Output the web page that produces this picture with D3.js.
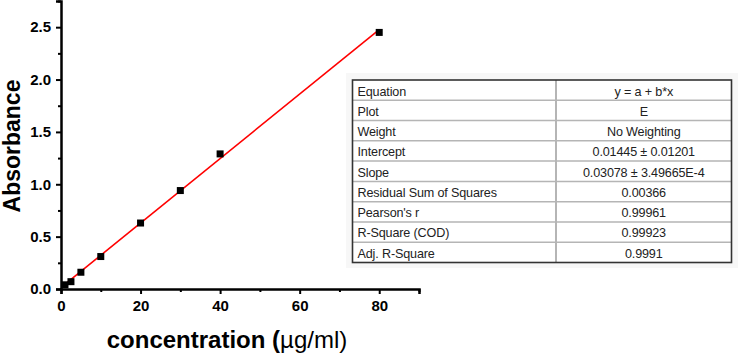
<!DOCTYPE html>
<html>
<head>
<meta charset="utf-8">
<script src="https://cdn.jsdelivr.net/npm/d3@7"></script>
<style>
html,body{margin:0;padding:0;background:#fff;}
svg{display:block;}
</style>
</head>
<body>
<svg id="chart" width="744" height="356"></svg>
<script>
// Data
const concentration = [1, 2.5, 5, 10, 20, 30, 40, 80];
const absorbance = [0.04, 0.07, 0.16, 0.31, 0.63, 0.94, 1.29, 2.45];
const fitIntercept = 0.01445;
const fitSlope = 0.03078;
const xTicks = [0, 20, 40, 60, 80];
const yTicks = [0.0, 0.5, 1.0, 1.5, 2.0, 2.5];
const tableLabels = ["Equation","Plot","Weight","Intercept","Slope","Residual Sum of Squares","Pearson's r","R-Square (COD)","Adj. R-Square"];
const tableValues = ["y = a + b*x","E","No Weighting","0.01445 \u00b1 0.01201","0.03078 \u00b1 3.49665E-4","0.00366","0.99961","0.99923","0.9991"];

const svg = d3.select("#chart");
const x = d3.scaleLinear().domain([0, 90]).range([61, 419]);
const y = d3.scaleLinear().domain([0, 2.75]).range([289, 1]);

// axes
const xAxis = d3.axisBottom(x).tickValues(xTicks).tickSize(5).tickFormat(d3.format("d"));
const xMinor = d3.axisBottom(x).tickValues(d3.range(10, 91, 20)).tickSize(3).tickFormat("");
const yAxis = d3.axisLeft(y).tickValues(yTicks).tickSize(5).tickFormat(d3.format(".1f"));
const yMinor = d3.axisLeft(y).tickValues(d3.range(0.25, 2.76, 0.5)).tickSize(3).tickFormat("");

function styleAxis(g){
  g.select(".domain").attr("stroke","#000").attr("stroke-width",2.5);
  g.selectAll(".tick line").attr("stroke","#000").attr("stroke-width",2);
  g.selectAll(".tick text").attr("fill","#000").style("font-family","'Liberation Sans', Arial, sans-serif").style("font-weight","bold").style("font-size","15px");
}
const gx = svg.append("g").attr("transform","translate(0,289)").call(xAxis).call(styleAxis);
gx.selectAll(".tick text").attr("dy","0.95em").attr("y",8);
svg.append("g").attr("transform","translate(0,289)").call(xMinor).call(styleAxis).select(".domain").remove();
const gy = svg.append("g").attr("transform","translate(61,0)").call(yAxis).call(styleAxis);
gy.selectAll(".tick text").attr("x",-10);
svg.append("g").attr("transform","translate(61,0)").call(yMinor).call(styleAxis).select(".domain").remove();

// axis titles
svg.append("text")
  .attr("transform","translate(20,146) rotate(-90)")
  .attr("text-anchor","middle")
  .style("font-family","'Liberation Sans', Arial, sans-serif")
  .style("font-weight","bold").style("font-size","23px")
  .text("Absorbance");
const xt = svg.append("text")
  .attr("x",227).attr("y",348)
  .attr("text-anchor","middle")
  .style("font-family","'Liberation Sans', Arial, sans-serif")
  .style("font-size","24px");
xt.append("tspan").style("font-weight","bold").text("concentration (");
xt.append("tspan").style("font-weight","normal").text("\u00b5g/ml)");

// fit line
const xs = d3.extent(concentration);
const line = d3.line().x(d=>x(d)).y(d=>y(fitIntercept + fitSlope*d));
svg.append("path").datum([0.5, xs[1]])
  .attr("d", line).attr("fill","none").attr("stroke","#ff0000").attr("stroke-width",1.6);

// points
svg.append("g").selectAll("rect").data(concentration).join("rect")
  .attr("x",(d)=>x(d)-3.5).attr("y",(d,i)=>y(absorbance[i])-3.5)
  .attr("width",7).attr("height",7).attr("fill","#000");

// table
const tx0 = 352.5, tx1 = 731.5, tcol = 556, ty0 = 80, rowH = (262.5-80)/tableLabels.length;
svg.append("rect").attr("x",346).attr("y",73).attr("width",392).attr("height",195).attr("fill","#f7f7f7");
svg.append("rect").attr("x",tx0).attr("y",ty0).attr("width",tx1-tx0).attr("height",rowH*tableLabels.length).attr("fill","#fff");
const tg = svg.append("g");
tableLabels.forEach((lab,i)=>{
  if(i>0){
    tg.append("line").attr("x1",tx0).attr("x2",tx1).attr("y1",ty0+i*rowH).attr("y2",ty0+i*rowH)
      .attr("stroke","#b5b5b5").attr("stroke-width",1.5);
  }
  tg.append("text").attr("x",tx0+5).attr("y",ty0+i*rowH+rowH/2+1).attr("dy","0.35em")
    .style("font-family","'Liberation Sans', Arial, sans-serif").style("font-size","12.6px").attr("fill","#222")
    .style("letter-spacing","-0.15px")
    .text(lab);
  tg.append("text").attr("x",(tcol+tx1)/2).attr("y",ty0+i*rowH+rowH/2+1).attr("dy","0.35em").attr("text-anchor","middle")
    .style("font-family","'Liberation Sans', Arial, sans-serif").style("font-size","12.6px").attr("fill","#222")
    .style("letter-spacing","-0.15px")
    .text(tableValues[i]);
});
tg.append("line").attr("x1",tcol).attr("x2",tcol).attr("y1",ty0).attr("y2",ty0+rowH*tableLabels.length)
  .attr("stroke","#b5b5b5").attr("stroke-width",2);
tg.append("rect").attr("x",tx0).attr("y",ty0).attr("width",tx1-tx0).attr("height",rowH*tableLabels.length)
  .attr("fill","none").attr("stroke","#333").attr("stroke-width",1.6);
</script>
</body>
</html>
